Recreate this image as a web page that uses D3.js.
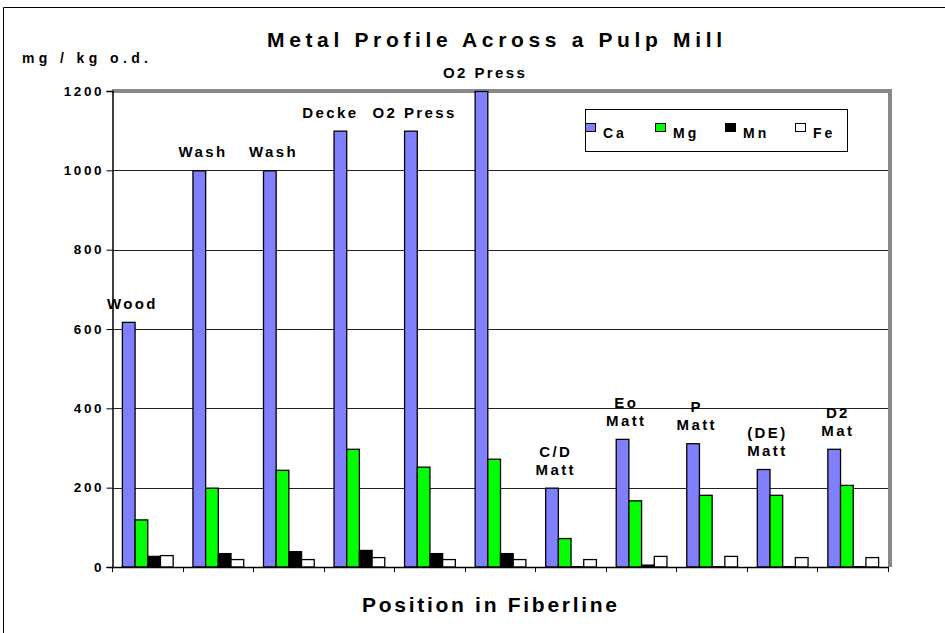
<!DOCTYPE html>
<html>
<head>
<meta charset="utf-8">
<script src="https://cdn.jsdelivr.net/npm/d3@7"></script>
<style>
  body { margin: 0; background: #fff; }
  svg { display: block; font-family: "Liberation Sans", Arial, sans-serif; font-weight: bold; }
</style>
</head>
<body>
<svg id="chart" width="945" height="633"></svg>
<script>
// Fiberline positions (second line of label after \n)
const categories = ["Wood", "Wash", "Wash", "Decke", "O2 Press", "O2 Press",
    "C/D\nMatt", "Eo\nMatt", "P\nMatt", "(DE)\nMatt", "D2\nMat"];
const metals = ["Ca", "Mg", "Mn", "Fe"];

// mg / kg o.d.
const caValues = [618, 1000, 1000, 1100, 1100, 1200, 200, 323, 312, 247, 298];
const mgValues = [120, 200, 245, 298, 253, 273, 73, 168, 182, 182, 207];
const mnValues = [28, 35, 40, 43, 35, 35, 2, 6, 2, 2, 2];
const feValues = [30, 20, 20, 25, 20, 20, 20, 28, 28, 25, 25];
const yTicks = [0, 200, 400, 600, 800, 1000, 1200];

const colors = { Ca: "#8080ff", Mg: "#00ff00", Mn: "#000000", Fe: "#ffffff" };

const series = { Ca: caValues, Mg: mgValues, Mn: mnValues, Fe: feValues };

const svg = d3.select("#chart");
const plot = { left: 112, right: 888, top: 91, bottom: 567 };

// outer frame
svg.append("path")
    .attr("d", "M3.5,633 V7.5 H945")
    .attr("fill", "none")
    .attr("stroke", "#000")
    .attr("stroke-width", 1);

const x0 = d3.scaleBand()
    .domain(d3.range(categories.length))
    .range([plot.left, plot.right])
    .padding(0);

const x1 = d3.scaleBand()
    .domain(metals)
    .range([0, x0.bandwidth()])
    .paddingInner(0)
    .paddingOuter(0.78);

const y = d3.scaleLinear()
    .domain([0, 1200])
    .range([plot.bottom, plot.top]);

// grid lines
svg.append("g")
    .selectAll("line")
    .data(yTicks.filter(v => v > 0 && v < 1200))
    .join("line")
    .attr("x1", plot.left)
    .attr("x2", plot.right)
    .attr("y1", d => Math.round(y(d)) + 0.5)
    .attr("y2", d => Math.round(y(d)) + 0.5)
    .attr("stroke", "#222")
    .attr("stroke-width", 1);

// gray plot frame (top + right)
svg.append("path")
    .attr("d", `M${plot.left},${plot.top} H${plot.right + 2} V${plot.bottom}`)
    .attr("fill", "none")
    .attr("stroke", "#888")
    .attr("stroke-width", 4);

// bars
const groups = svg.append("g")
    .selectAll("g")
    .data(categories.map((c, i) => i))
    .join("g")
    .attr("transform", i => `translate(${x0(i)},0)`);

groups.selectAll("rect")
    .data(i => metals.map(m => ({ metal: m, value: series[m][i] })))
    .join("rect")
    .attr("x", d => x1(d.metal) + 0.5)
    .attr("y", d => y(d.value) + 0.5)
    .attr("width", x1.bandwidth())
    .attr("height", d => Math.max(0, plot.bottom - y(d.value) - 0.5))
    .attr("fill", d => colors[d.metal])
    .attr("stroke", "#000")
    .attr("stroke-width", 1.3);

// category labels, roughly over the Ca bar
const labels = [];
groups.each(function(i) {
    const lines = categories[i].split("\n");
    const cx = x1("Ca") + x1.bandwidth() / 2 + 3;
    const base = y(caValues[i]) - 13;
    const t = d3.select(this).append("text")
        .attr("text-anchor", "middle")
        .attr("font-size", 15)
        .attr("letter-spacing", 2.4);
    lines.forEach((ln, k) => {
        t.append("tspan")
            .attr("x", cx + 1.2)
            .attr("y", base - (lines.length - 1 - k) * 18)
            .text(ln);
    });
    labels.push({ node: t, group: i });
});

// push a label left when it runs into the next one
for (let i = labels.length - 2; i >= 0; i--) {
    const a = labels[i].node.node().getBBox();
    const b = labels[i + 1].node.node().getBBox();
    const ax = x0(i) + a.x + a.width;
    const bx = x0(i + 1) + b.x;
    const sameRow = Math.abs(a.y - b.y) < a.height;
    if (sameRow && ax > bx - 14) {
        const shift = ax - (bx - 14);
        labels[i].node.attr("transform", `translate(${-shift},0)`);
    }
}

// y axis
const yAxis = d3.axisLeft(y)
    .tickValues(yTicks)
    .tickSize(6)
    .tickPadding(5)
    .tickFormat(d3.format("d"));

const gy = svg.append("g")
    .attr("transform", `translate(${plot.left + 0.5},0)`)
    .call(yAxis);
gy.select(".domain").attr("stroke", "#000").attr("stroke-width", 1.5);
gy.selectAll(".tick line").attr("stroke", "#000");
gy.selectAll(".tick text")
    .attr("font-size", 13.5)
    .attr("font-family", "Liberation Sans, Arial, sans-serif")
    .attr("font-weight", "bold")
    .attr("letter-spacing", 2.6)
    .attr("dx", 2.6)
    .attr("fill", "#000");

// x axis (ticks between groups)
const xTickPos = d3.range(categories.length + 1).map(i => plot.left + i * x0.step());
svg.append("line")
    .attr("x1", plot.left)
    .attr("x2", plot.right + 1)
    .attr("y1", plot.bottom + 0.5)
    .attr("y2", plot.bottom + 0.5)
    .attr("stroke", "#000")
    .attr("stroke-width", 1.5);
svg.append("g")
    .selectAll("line")
    .data(xTickPos)
    .join("line")
    .attr("x1", d => Math.round(d) + 0.5)
    .attr("x2", d => Math.round(d) + 0.5)
    .attr("y1", plot.bottom)
    .attr("y2", plot.bottom + 5)
    .attr("stroke", "#000");

// titles
svg.append("text")
    .attr("x", 267)
    .attr("y", 47)
    .attr("font-size", 21)
    .attr("textLength", 455)
    .attr("lengthAdjust", "spacing")
    .text("Metal Profile Across a Pulp Mill");

svg.append("text")
    .attr("x", 22)
    .attr("y", 63)
    .attr("font-size", 14)
    .attr("textLength", 126)
    .attr("lengthAdjust", "spacing")
    .text("mg / kg o.d.");

svg.append("text")
    .attr("x", 362)
    .attr("y", 612)
    .attr("font-size", 21)
    .attr("textLength", 255)
    .attr("lengthAdjust", "spacing")
    .text("Position in Fiberline");

// legend
const legend = svg.append("g").attr("transform", "translate(585,109)");
legend.append("rect")
    .attr("x", 0.5).attr("y", 0.5)
    .attr("width", 262).attr("height", 42)
    .attr("fill", "#fff")
    .attr("stroke", "#000");
const li = legend.selectAll("g.item")
    .data(metals)
    .join("g")
    .attr("class", "item")
    .attr("transform", (d, i) => `translate(${i * 70},0)`);
li.append("rect")
    .attr("x", 0.5).attr("y", 14.5)
    .attr("width", 10).attr("height", 8)
    .attr("fill", d => colors[d])
    .attr("stroke", "#000");
li.append("text")
    .attr("x", 18)
    .attr("y", 29)
    .attr("font-size", 14)
    .attr("letter-spacing", 3)
    .text(d => d);
</script>
</body>
</html>
